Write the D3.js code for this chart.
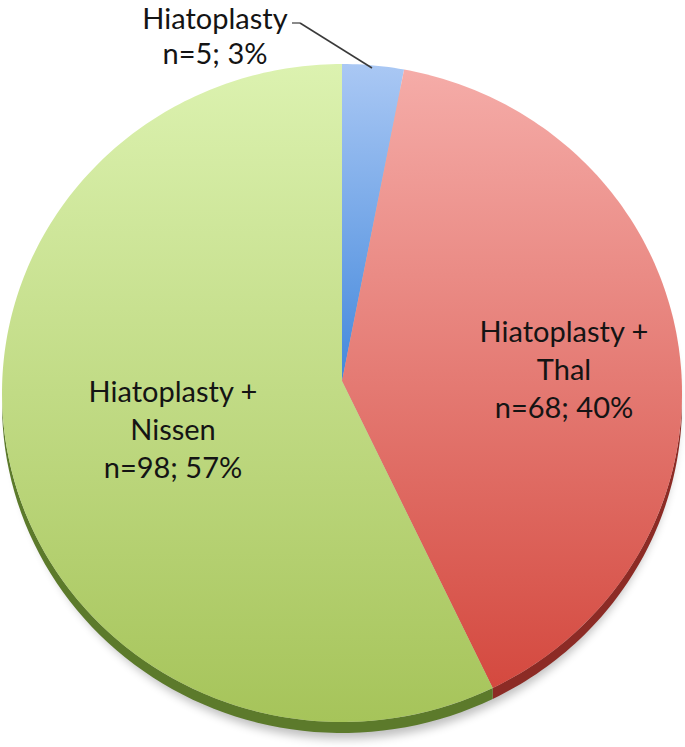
<!DOCTYPE html>
<html>
<head>
<meta charset="utf-8">
<script src="https://cdn.jsdelivr.net/npm/d3@7"></script>
<style>
  body { margin: 0; background: #fff; }
  text { font-family: Lato, "Open Sans", sans-serif; fill: #141414; }
</style>
</head>
<body>
<svg id="chart" width="685" height="747"></svg>
<script>
// data
var categories = ["Hiatoplasty", "Hiatoplasty + Thal", "Hiatoplasty + Nissen"];
var counts = [5, 68, 98];
var percents = [3, 40, 57];
var labelLines = [["Hiatoplasty"], ["Hiatoplasty +", "Thal"], ["Hiatoplasty +", "Nissen"]];

var colorsTop = ["#aac8f4", "#f5aca8", "#dcf2b0"];
var colorsBottom = ["#4388dc", "#d4493f", "#a6c45a"];
var colorsSide = ["#2f5e9a", "#8c2b25", "#5c7a2b"];

var W = 685, H = 747;
var cx = 342, cy = 393, rx = 340, ry = 329;
var apex = {x: 342, y: 381};
var depth = 11;

var svg = d3.select("#chart");
var defs = svg.append("defs");

// point on the top face ellipse for an angle measured clockwise from 12 o'clock
function ept(a, dy) {
	return [cx + rx * Math.sin(a), cy - ry * Math.cos(a) + (dy || 0)];
}

var pie = d3.pie().sort(null).value(function(d) { return d; });
var arcs = pie(counts);

// gradients, one per slice
arcs.forEach(function(d, i) {
	var g = defs.append("linearGradient")
		.attr("id", "grad" + i)
		.attr("x1", 0).attr("y1", 0).attr("x2", 0).attr("y2", 1);
	g.append("stop").attr("offset", "0%").attr("stop-color", colorsTop[i]);
	g.append("stop").attr("offset", "100%").attr("stop-color", colorsBottom[i]);
});

var blur = defs.append("filter").attr("id", "shadow")
	.attr("x", "-10%").attr("y", "-10%").attr("width", "120%").attr("height", "120%");
blur.append("feGaussianBlur").attr("stdDeviation", 5);

var line = d3.line();

// soft shadow under the pie
svg.append("ellipse")
	.attr("cx", cx + 2).attr("cy", cy + depth + 7)
	.attr("rx", rx - 6).attr("ry", ry - 1)
	.attr("fill", "#000").attr("opacity", 0.25)
	.attr("filter", "url(#shadow)");

// side band (only the front half is visible)
arcs.forEach(function(d, i) {
	var a0 = Math.max(d.startAngle, Math.PI / 2);
	var a1 = Math.min(d.endAngle, 3 * Math.PI / 2);
	if (a1 <= a0) return;
	var steps = d3.range(0, 61).map(function(k) { return a0 + (a1 - a0) * k / 60; });
	var pts = steps.map(function(a) { return ept(a, 0); })
		.concat(steps.slice().reverse().map(function(a) { return ept(a, depth); }));
	svg.append("path")
		.attr("d", line(pts) + "Z")
		.attr("fill", colorsSide[i]);
});

// top face slices
arcs.forEach(function(d, i) {
	var n = Math.max(8, Math.ceil((d.endAngle - d.startAngle) * 60));
	var pts = [[apex.x, apex.y]].concat(d3.range(0, n + 1).map(function(k) {
		return ept(d.startAngle + (d.endAngle - d.startAngle) * k / n);
	}));
	svg.append("path")
		.attr("d", line(pts) + "Z")
		.attr("fill", "url(#grad" + i + ")");
});

// labels
var fs = 29, lh = 38;
var labelPos = [
	{x: 215, y: 29},
	{x: 564, y: 342},
	{x: 173, y: 402}
];

arcs.forEach(function(d, i) {
	var lines = labelLines[i].concat(["n=" + counts[i] + "; " + percents[i] + "%"]);
	var t = svg.append("text")
		.attr("text-anchor", "middle")
		.style("font-size", fs + "px");
	var step = i === 0 ? 35 : lh;
	lines.forEach(function(s, k) {
		t.append("tspan")
			.attr("x", labelPos[i].x)
			.attr("y", labelPos[i].y + k * step)
			.text(s);
	});
});

// leader line for the small slice
svg.append("path")
	.attr("d", line([[292, 23], [300, 23]]))
	.attr("stroke", "#8a8a8a").attr("stroke-width", 2).attr("fill", "none");
svg.append("path")
	.attr("d", line([[300, 23], [372, 68]]))
	.attr("stroke", "#3a3a3a").attr("stroke-width", 1.5).attr("fill", "none");
</script>
</body>
</html>
